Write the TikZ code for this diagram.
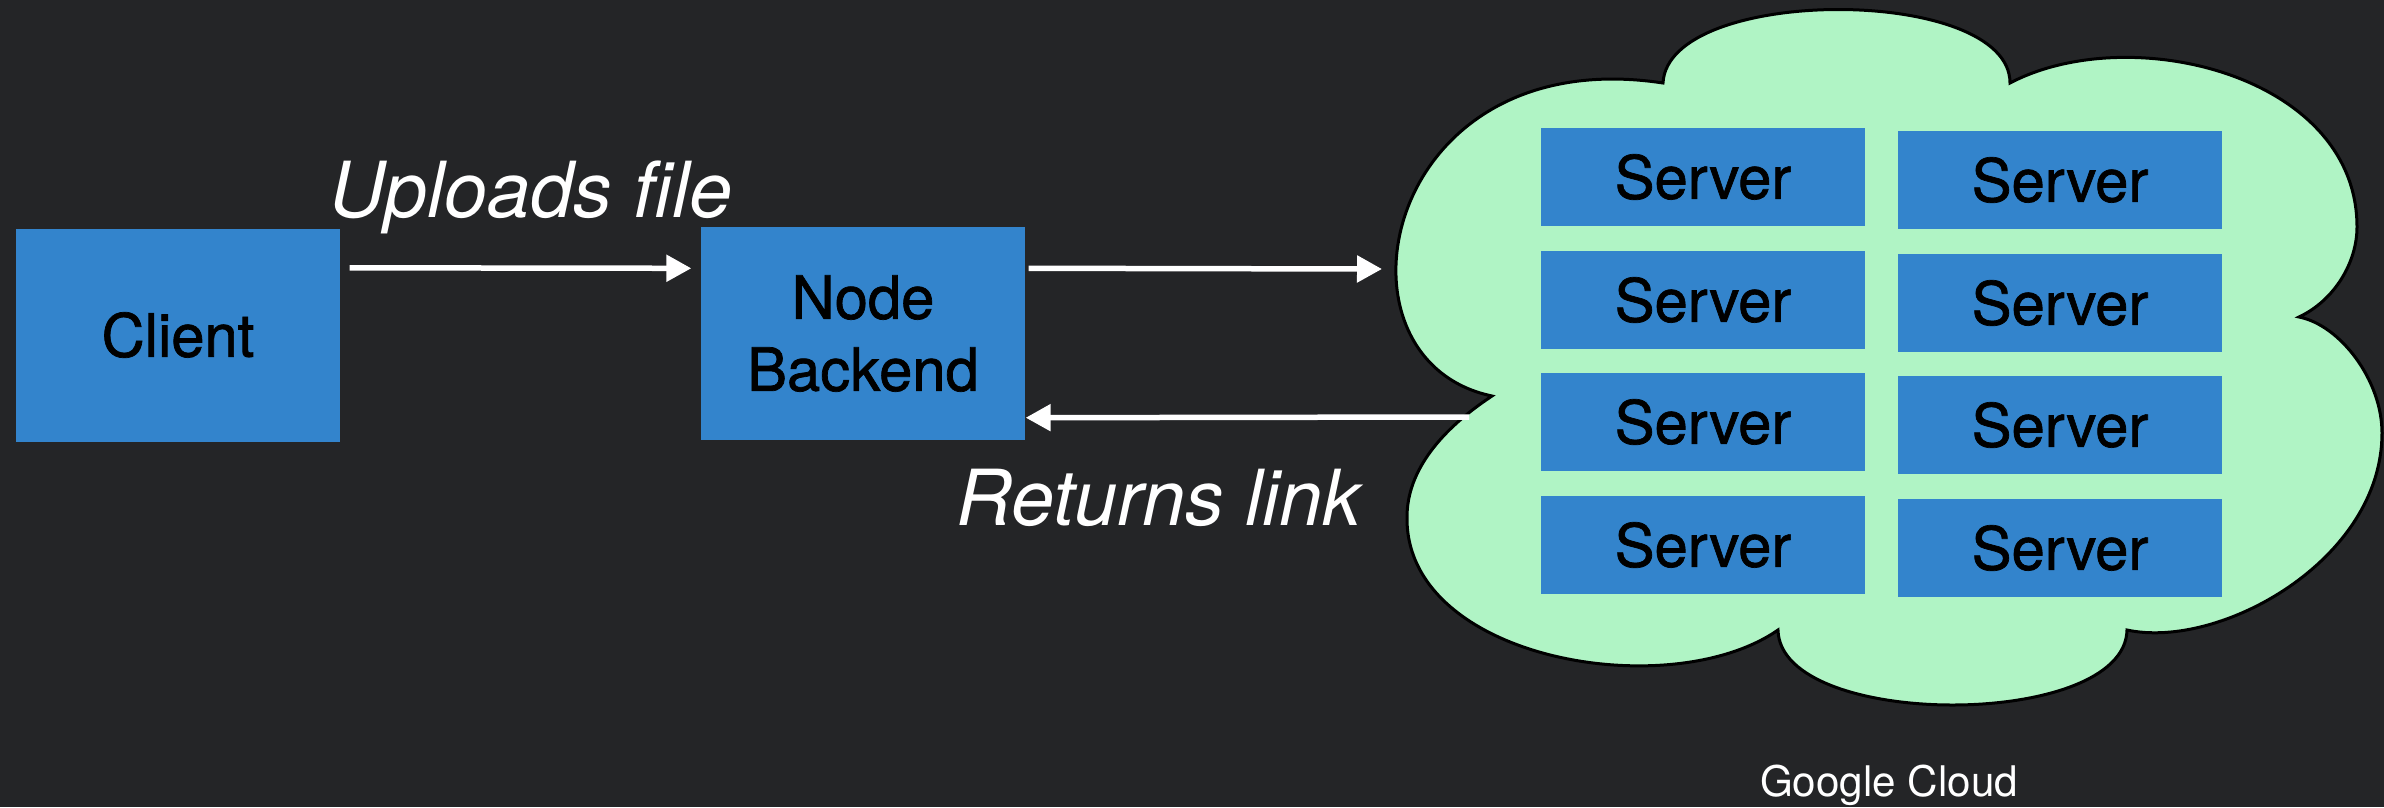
\documentclass[tikz,border=0pt]{standalone}
\usepackage{fontspec}
\setmainfont{TeX Gyre Heros}
\newfontfamily\boxfont[BoldFont={TeX Gyre Heros}, BoldFeatures={FakeBold=1.2}]{TeX Gyre Heros}
\usetikzlibrary{arrows.meta,calc}
\definecolor{bgc}{RGB}{36,37,39}
\definecolor{boxblue}{RGB}{51,132,204}
\definecolor{cloudgreen}{RGB}{176,244,197}
\tikzset{
  bluebox/.style={fill=boxblue, draw=none, inner sep=0pt, text=black,
    font=\boxfont\bfseries\fontsize{17}{20.5}\selectfont, align=center},
  bigbox/.style={bluebox, minimum width=32.4mm, minimum height=21.3mm},
  serverbox/.style={bluebox, minimum width=32.4mm, minimum height=9.8mm},
  arr/.style={draw=white, line width=0.55mm, -{Triangle[length=2.5mm,width=2.6mm]}},
  flowlabel/.style={text=white, font=\fontsize{22}{26}\selectfont\itshape, anchor=base, inner sep=0pt},
  cloudlabel/.style={text=white, font=\fontsize{12}{14}\selectfont, anchor=base, inner sep=0pt},
  cloudshape/.style={fill=cloudgreen, draw=black, line width=0.3mm, line join=miter}
}
\begin{document}
\begin{tikzpicture}[x=0.1mm, y=-0.1mm]
\fill[bgc] (0,0) rectangle (2384,807);
\useasboundingbox (0,0) rectangle (2384,807);

% cloud
\filldraw[cloudshape]
  (1492,396) .. controls (1320,360) and (1380,40) .. (1663,83)
  .. controls (1668,-15) and (2010,-15) .. (2010,83)
  .. controls (2130,20) and (2357,75) .. (2357,227)
  .. controls (2357,262) and (2335,300) .. (2299,317)
  .. controls (2340,325) and (2382,380) .. (2382,433)
  .. controls (2382,560) and (2220,650) .. (2127,630)
  .. controls (2125,730) and (1780,730) .. (1778,630)
  .. controls (1670,705) and (1405,660) .. (1407,517)
  .. controls (1407,470) and (1442,429) .. (1492,396)
  -- cycle;

% main boxes
\node[bigbox] (client) at (178,335) {Client};
\node[bigbox] (backend) at (863,333.5) {Node\\Backend};

% servers
\node[serverbox] (s11) at (1703,177) {Server};
\node[serverbox] (s21) at (1703,300) {Server};
\node[serverbox] (s31) at (1703,422) {Server};
\node[serverbox] (s41) at (1703,545) {Server};
\node[serverbox] (s12) at (2060,180) {Server};
\node[serverbox] (s22) at (2060,303) {Server};
\node[serverbox] (s32) at (2060,425) {Server};
\node[serverbox] (s42) at (2060,548) {Server};

% connector ends at the cloud
\coordinate (cloudin) at (1382,269);
\coordinate (cloudout) at (1469,417);

% arrows
\draw[arr] ($(client.north east)+(9,40)$) -- ($(backend.north west)+(-9,42)$);
\draw[arr] ($(backend.north east)+(3,42)$) -- (cloudin);
\draw[arr] (cloudout) -- ($(backend.south east)+(0,-23)$);

% labels
\node[flowlabel] (uplbl) at (531,217) {Uploads file};
\node[flowlabel] (retlbl) at (1159,525) {Returns link};
\node[cloudlabel] (gclbl) at (1889,796) {Google Cloud};
\end{tikzpicture}
\end{document}
